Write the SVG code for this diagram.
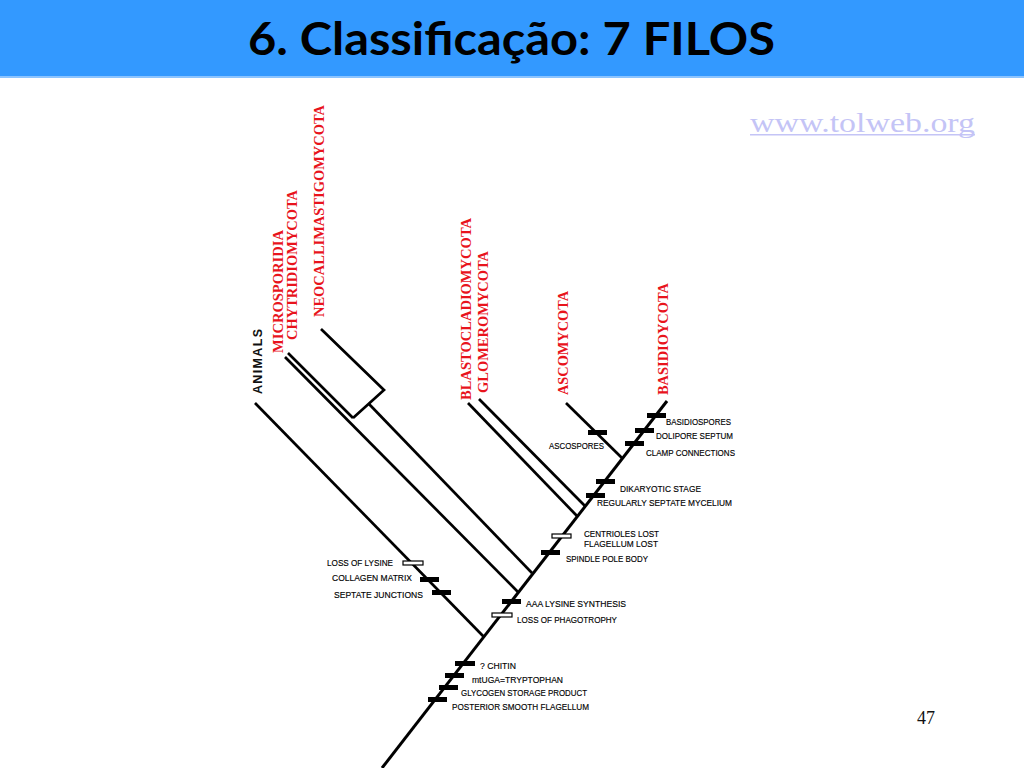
<svg xmlns="http://www.w3.org/2000/svg" width="1024" height="768" viewBox="0 0 1024 768">
<style>
.br{stroke:#000;stroke-width:2.7;fill:none;stroke-linecap:butt}
.tr{stroke:#000;stroke-width:3;fill:none}
.bar{fill:#000}
.obar{fill:#fff;stroke:#000;stroke-width:1.2}
.lbl{font-family:"Liberation Sans",Arial,sans-serif;font-size:9.2px;fill:#000;stroke:#000;stroke-width:0.15}
.taxon{font-family:"Liberation Serif","Times New Roman",serif;font-weight:bold;font-size:15px;fill:#e8141c}
</style>
<rect x="0" y="0" width="1024" height="768" fill="#fff"/>
<g id="header">
<rect x="0" y="0" width="1024" height="77" fill="#3399ff"/>
<rect x="0" y="76" width="1024" height="2" fill="#8cc4ff"/>
<text x="248" y="55" font-family="Lato,'Liberation Sans',sans-serif" font-weight="bold" font-size="46" fill="#000" textLength="527" lengthAdjust="spacingAndGlyphs">6. Classificação: 7 FILOS</text>
</g>
<g id="source">
<text x="750" y="132" font-family="'Liberation Serif','Times New Roman',serif" font-size="27" fill="#c4c4f6" textLength="225" lengthAdjust="spacingAndGlyphs">www.tolweb.org</text>
<rect x="750" y="134" width="225" height="1.5" fill="#c4c4f6"/>
</g>
<g id="connectors">
<line class="tr" x1="382" y1="768" x2="667" y2="401"/>
<line class="br" x1="255" y1="403" x2="484" y2="637"/>
<line class="br" x1="285" y1="357" x2="518" y2="592"/>
<line class="br" x1="288" y1="353" x2="353" y2="418"/>
<polyline class="br" points="321,329 384,390 353,418"/>
<line class="br" x1="369" y1="404" x2="532" y2="573"/>
<line class="br" x1="468" y1="403" x2="577" y2="516"/>
<line class="br" x1="479" y1="399" x2="585" y2="506"/>
<line class="br" x1="566" y1="403" x2="622" y2="458"/>
</g>
<g id="taxa">
<text x="262" y="394" transform="rotate(-90 262 394)" font-family="'Liberation Sans',Arial,sans-serif" font-weight="bold" font-size="12.5" fill="#111" textLength="65" lengthAdjust="spacing">ANIMALS</text>
<text class="taxon" x="283" y="353" transform="rotate(-90 283 353)" textLength="123" lengthAdjust="spacingAndGlyphs">MICROSPORIDIA</text>
<text class="taxon" x="297" y="340" transform="rotate(-90 297 340)" textLength="150" lengthAdjust="spacingAndGlyphs">CHYTRIDIOMYCOTA</text>
<text class="taxon" x="324" y="317" transform="rotate(-90 324 317)" textLength="212" lengthAdjust="spacingAndGlyphs">NEOCALLIMASTIGOMYCOTA</text>
<text class="taxon" x="471" y="400" transform="rotate(-90 471 400)" textLength="182" lengthAdjust="spacingAndGlyphs">BLASTOCLADIOMYCOTA</text>
<text class="taxon" x="488" y="393" transform="rotate(-90 488 393)" textLength="142" lengthAdjust="spacingAndGlyphs">GLOMEROMYCOTA</text>
<text class="taxon" x="568" y="395" transform="rotate(-90 568 395)" textLength="104" lengthAdjust="spacingAndGlyphs">ASCOMYCOTA</text>
<text class="taxon" x="668" y="395" transform="rotate(-90 668 395)" textLength="112" lengthAdjust="spacingAndGlyphs">BASIDIOYCOTA</text>
</g>
<g id="characters">
<rect class="bar" x="647" y="413" width="19" height="5"/>
<rect class="bar" x="635" y="428" width="19" height="5"/>
<rect class="bar" x="625" y="441" width="19" height="5"/>
<rect class="bar" x="588" y="430" width="19" height="5"/>
<rect class="bar" x="596" y="479" width="19" height="5"/>
<rect class="bar" x="586" y="493" width="19" height="5"/>
<rect class="obar" x="552" y="534" width="19" height="4"/>
<rect class="bar" x="541" y="550" width="19" height="5"/>
<rect class="obar" x="403" y="561" width="20" height="4"/>
<rect class="bar" x="420" y="577" width="19" height="5"/>
<rect class="bar" x="432" y="590" width="19" height="5"/>
<rect class="bar" x="502" y="599" width="19" height="5"/>
<rect class="obar" x="492" y="613" width="20" height="4"/>
<rect class="bar" x="455" y="661" width="20" height="5"/>
<rect class="bar" x="445" y="673" width="19" height="5"/>
<rect class="bar" x="439" y="685" width="19" height="5"/>
<rect class="bar" x="428" y="697" width="19" height="5"/>
</g>
<g id="labels">
<text class="lbl" x="666" y="425" textLength="65" lengthAdjust="spacingAndGlyphs">BASIDIOSPORES</text>
<text class="lbl" x="656" y="439" textLength="77" lengthAdjust="spacingAndGlyphs">DOLIPORE SEPTUM</text>
<text class="lbl" x="646" y="456" textLength="89" lengthAdjust="spacingAndGlyphs">CLAMP CONNECTIONS</text>
<text class="lbl" x="549" y="449" textLength="55" lengthAdjust="spacingAndGlyphs">ASCOSPORES</text>
<text class="lbl" x="620" y="492" textLength="81" lengthAdjust="spacingAndGlyphs">DIKARYOTIC STAGE</text>
<text class="lbl" x="597" y="506" textLength="135" lengthAdjust="spacingAndGlyphs">REGULARLY SEPTATE MYCELIUM</text>
<text class="lbl" x="584" y="537" textLength="75" lengthAdjust="spacingAndGlyphs">CENTRIOLES LOST</text>
<text class="lbl" x="584" y="547" textLength="74" lengthAdjust="spacingAndGlyphs">FLAGELLUM LOST</text>
<text class="lbl" x="566" y="562" textLength="82" lengthAdjust="spacingAndGlyphs">SPINDLE POLE BODY</text>
<text class="lbl" x="327" y="566" textLength="66" lengthAdjust="spacingAndGlyphs">LOSS OF LYSINE</text>
<text class="lbl" x="332" y="581" textLength="80" lengthAdjust="spacingAndGlyphs">COLLAGEN MATRIX</text>
<text class="lbl" x="334" y="598" textLength="89" lengthAdjust="spacingAndGlyphs">SEPTATE JUNCTIONS</text>
<text class="lbl" x="526" y="607" textLength="100" lengthAdjust="spacingAndGlyphs">AAA LYSINE SYNTHESIS</text>
<text class="lbl" x="517" y="623" textLength="100" lengthAdjust="spacingAndGlyphs">LOSS OF PHAGOTROPHY</text>
<text class="lbl" x="480" y="669" textLength="36" lengthAdjust="spacingAndGlyphs">? CHITIN</text>
<text class="lbl" x="472" y="683" textLength="91" lengthAdjust="spacingAndGlyphs">mtUGA=TRYPTOPHAN</text>
<text class="lbl" x="461" y="696" textLength="126" lengthAdjust="spacingAndGlyphs">GLYCOGEN STORAGE PRODUCT</text>
<text class="lbl" x="452" y="710" textLength="137" lengthAdjust="spacingAndGlyphs">POSTERIOR SMOOTH FLAGELLUM</text>
</g>
<g id="page">
<text x="917" y="724" font-family="'Liberation Serif','Times New Roman',serif" font-size="18" fill="#111">47</text>
</g>
</svg>
